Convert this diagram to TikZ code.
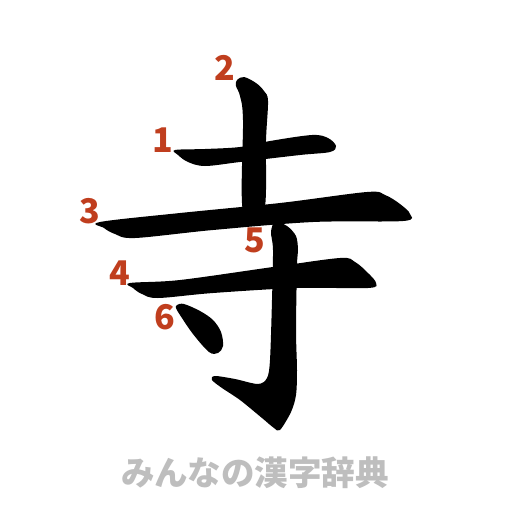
\documentclass[tikz,border=0pt]{standalone}
\usepackage{fontspec}
\newfontfamily\cjk{Noto Sans CJK JP}
\definecolor{numred}{RGB}{192,62,30}
\definecolor{logogray}{RGB}{190,190,190}
\begin{document}
\begin{tikzpicture}[x=1pt,y=-1pt,
  strokeshape/.style={fill=black,draw=none},
  num/.style={text=numred,font=\cjk\bfseries\fontsize{34}{34}\selectfont,inner sep=0pt},
  logo/.style={text=logogray,font=\cjk\bfseries\fontsize{33.5}{33.5}\selectfont,inner sep=0pt}]
\useasboundingbox (0,0) rectangle (512,512);
\fill[white] (0,0) rectangle (512,512);
% stroke 2 (vertical top)
\fill[strokeshape] plot[smooth cycle,tension=0.55] coordinates {(237,80) (244,77) (256,83) (264,91) (268,101) (266,140) (264,212) (243,212) (243,120) (240,96) (236,86)};
% stroke 1
\fill[strokeshape] plot[smooth cycle,tension=0.55] coordinates {(175,150) (205,149) (240,147) (270,141) (312,135) (328,138) (336,146) (330,152) (300,155) (240,162) (205,166) (188,162) (178,155)};
% stroke 3
\fill[strokeshape] plot[smooth cycle,tension=0.55] coordinates {(100,222) (180,213) (280,203) (367,192) (385,195) (400,204) (410,214) (403,221) (313,222) (213,230) (135,238) (115,234) (104,228)};
% stroke 5
\fill[strokeshape] plot[smooth cycle,tension=0.5] coordinates {(275,222) (287,226) (296,236) (298,250) (297,265) (296,330) (297,370) (296,395) (291,412) (280,430) (274,428) (262,418) (240,400) (222,388) (212,380) (215,376) (235,379) (258,384) (267,378) (270,360) (272,300) (273,250) (271,232)};
% stroke 4
\fill[strokeshape] plot[smooth cycle,tension=0.55] coordinates {(130,283) (180,280) (273,267) (340,258) (355,262) (368,273) (376,283) (368,288) (297,288) (213,293) (158,298) (142,294) (133,288)};
% stroke 6
\fill[strokeshape] plot[smooth cycle,tension=0.55] coordinates {(177,305) (184,304) (200,311) (213,320) (221,332) (223,346) (218,353) (209,352) (193,334) (180,315) (176,308)};
% numbers
\node[num] (n1) at (163,140) {1};
\node[num] (n2) at (225,68) {2};
\node[num] (n3) at (90,211) {3};
\node[num] (n4) at (120,273) {4};
\node[num] (n5) at (255,240) {5};
\node[num] (n6) at (165,317) {6};
\node[logo] (logo) at (255,473) {みんなの漢字辞典};
\end{tikzpicture}
\end{document}
